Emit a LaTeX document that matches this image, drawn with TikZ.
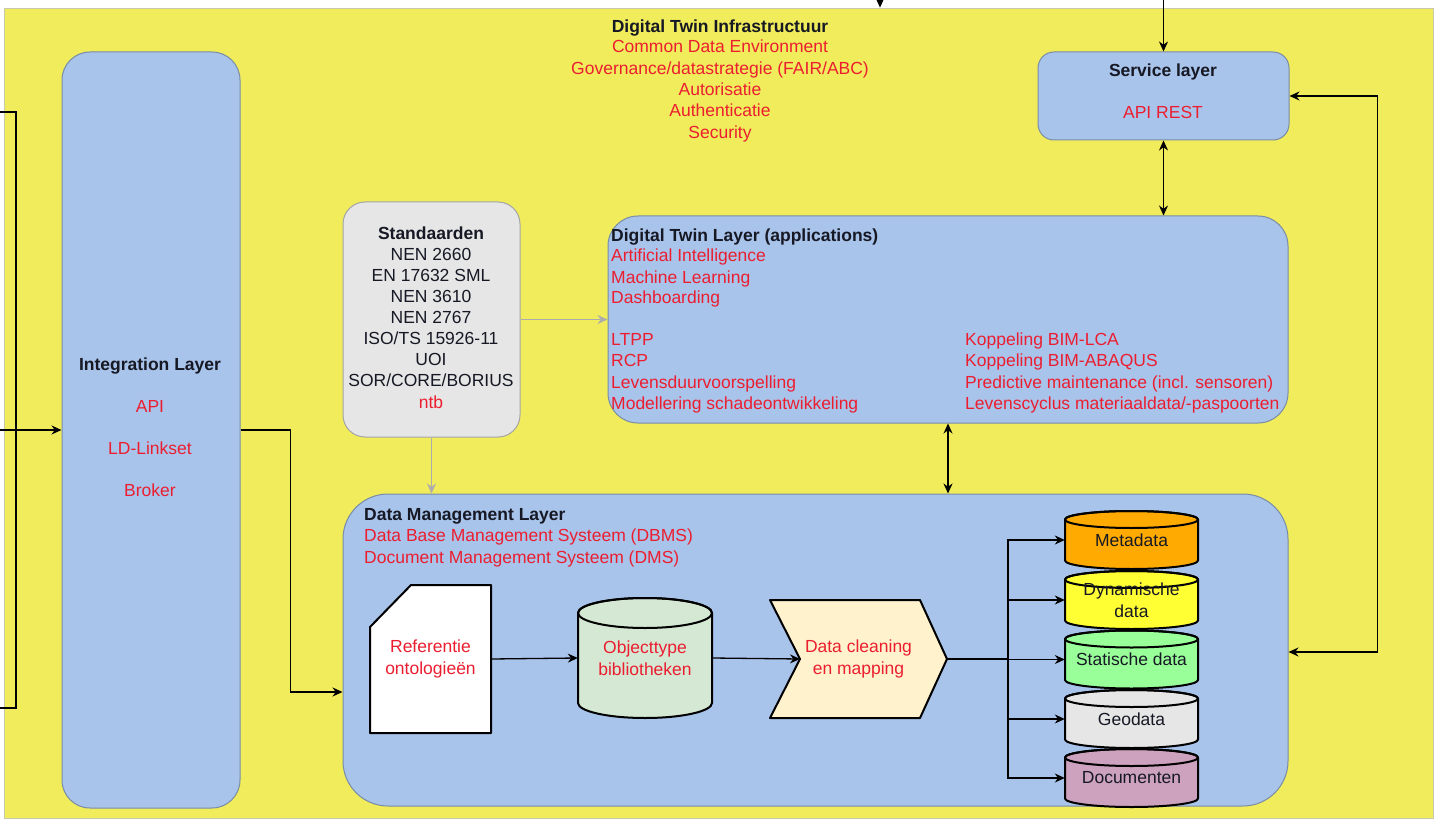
\documentclass[tikz,border=0pt]{standalone}
\usepackage{fontspec}
\setmainfont{Liberation Sans}
\usetikzlibrary{arrows.meta,calc}

\definecolor{yel}{RGB}{240,236,92}
\definecolor{yelbd}{RGB}{200,200,170}
\definecolor{laybl}{RGB}{169,196,235}
\definecolor{laybd}{RGB}{120,140,165}
\definecolor{rtx}{RGB}{235,30,48}
\definecolor{dtx}{RGB}{22,24,36}
\definecolor{stdfill}{RGB}{230,230,230}
\definecolor{stdbd}{RGB}{165,165,165}
\definecolor{garr}{RGB}{172,172,172}
\definecolor{cmeta}{RGB}{255,170,0}
\definecolor{cdyn}{RGB}{255,255,51}
\definecolor{cstat}{RGB}{153,255,153}
\definecolor{cgeo}{RGB}{230,230,230}
\definecolor{cdoc}{RGB}{205,162,190}
\definecolor{cobj}{RGB}{213,232,212}
\definecolor{cclean}{RGB}{255,242,204}

\newcommand\fs{\fontsize{17.5}{22}\selectfont}

% cylinder: name, cx, cy, width, height, cap radius, fill, text, text colour
\newcommand\dbcyl[9]{%
  \pgfmathsetmacro\cyL{#2-#4/2}%
  \pgfmathsetmacro\cyR{#2+#4/2}%
  \pgfmathsetmacro\cyT{#3-#5/2+#6}%
  \pgfmathsetmacro\cyB{#3+#5/2-#6}%
  \pgfmathsetmacro\cyH{#4/2}%
  \filldraw[shapeline, fill=#7] (\cyL,\cyT) -- (\cyL,\cyB)
    arc[start angle=180, end angle=360, x radius=\cyH pt, y radius=#6pt]
    -- (\cyR,\cyT)
    arc[start angle=0, end angle=180, x radius=\cyH pt, y radius=#6pt] -- cycle;
  \draw[shapeline] (#2,\cyT) ellipse[x radius=\cyH pt, y radius=#6pt];
  \node[boxtext, text=#9, minimum width=#4pt, minimum height=#5pt] (#1) at (#2,#3) {#8};
}

\begin{document}
\begin{tikzpicture}[x=1pt, y=-1pt,
  layer/.style={draw=laybd, fill=laybl, line width=1pt, inner sep=0pt},
  lbl/.style={inner sep=0pt, text height=12.6pt, text depth=3.7pt, font=\fs},
  rl/.style={lbl, text=rtx},
  bl/.style={lbl, text=dtx, font=\fs\bfseries},
  kl/.style={lbl, text=dtx},
  boxtext/.style={inner sep=0pt, align=center, font=\fs},
  shapeline/.style={draw=black, line width=2pt, line join=round},
  conn/.style={draw=black, line width=1.3pt, -{Stealth[length=10pt,width=9pt]}},
  biconn/.style={draw=black, line width=1.3pt, {Stealth[length=10pt,width=9pt]}-{Stealth[length=10pt,width=9pt]}},
  greyconn/.style={draw=garr, line width=1.8pt, -{Stealth[length=10pt,width=9pt]}},
  busline/.style={draw=black, line width=1.3pt}
]
\useasboundingbox (0,0) rectangle (1435,821);

% infrastructure frame
\node[draw=yelbd, fill=yel, line width=0.8pt, minimum width=1429pt, minimum height=810pt, inner sep=0pt] (dti) at (719,413) {};

% layers
\node[layer, rounded corners=28pt, minimum width=178pt, minimum height=756pt] (integ) at (151,430) {};
\node[layer, rounded corners=16pt, minimum width=251pt, minimum height=88pt] (svc) at (1163.5,96) {};
\node[layer, rounded corners=30pt, minimum width=680pt, minimum height=207pt] (dt) at (948,319.5) {};
\node[layer, rounded corners=45pt, minimum width=945pt, minimum height=312pt] (dm) at (815.5,650) {};
\node[draw=stdbd, fill=stdfill, line width=1pt, rounded corners=22pt, minimum width=177pt, minimum height=235pt, inner sep=0pt] (std) at (431.5,319.5) {};

% infrastructure texts
\node[bl] (t0) at (720,28) {Digital Twin Infrastructuur};
\node[rl] (t1) at (720,48) {Common Data Environment};
\node[rl] (t2) at (720,70) {Governance/datastrategie (FAIR/ABC)};
\node[rl] (t3) at (720,91) {Autorisatie};
\node[rl] (t4) at (720,112) {Authenticatie};
\node[rl] (t5) at (720,134) {Security};

% integration layer texts
\node[bl] (i0) at (150,366) {Integration Layer};
\node[rl] (i1) at (150,408) {API};
\node[rl] (i2) at (150,450) {LD-Linkset};
\node[rl] (i3) at (150,492) {Broker};

% service layer texts
\node[bl] (s0) at (1163,72) {Service layer};
\node[rl] (s1) at (1163,114) {API REST};

% standards
\node[bl] (n0) at (431,235) {Standaarden};
\node[kl] (n1) at (431,256) {NEN 2660};
\node[kl] (n2) at (431,277) {EN 17632 SML};
\node[kl] (n3) at (431,298) {NEN 3610};
\node[kl] (n4) at (431,319) {NEN 2767};
\node[kl] (n5) at (431,340) {ISO/TS 15926-11};
\node[kl] (n6) at (431,361) {UOI};
\node[kl] (n7) at (431,382) {SOR/CORE/BORIUS};
\node[rl] (n8) at (431,404) {ntb};

% digital twin layer texts
\node[bl, anchor=west] (d0) at (611,237) {Digital Twin Layer (applications)};
\node[rl, anchor=west] (d1) at (611,257) {Artificial Intelligence};
\node[rl, anchor=west] (d2) at (611,279) {Machine Learning};
\node[rl, anchor=west] (d3) at (611,299) {Dashboarding};
\node[rl, anchor=west] (d4) at (611,341) {LTPP};
\node[rl, anchor=west] (d5) at (611,362) {RCP};
\node[rl, anchor=west] (d6) at (611,384) {Levensduurvoorspelling};
\node[rl, anchor=west] (d7) at (611,405) {Modellering schadeontwikkeling};
\node[rl, anchor=west] (e1) at (965,341) {Koppeling BIM-LCA};
\node[rl, anchor=west] (e2) at (965,362) {Koppeling BIM-ABAQUS};
\node[rl, anchor=west] (e3) at (965,384) {Predictive maintenance (incl. sensoren)};
\node[rl, anchor=west] (e4) at (965,405) {Levenscyclus materiaaldata/-paspoorten};

% data management layer texts
\node[bl, anchor=west] (m0) at (364,516) {Data Management Layer};
\node[rl, anchor=west] (m1) at (364,537) {Data Base Management Systeem (DBMS)};
\node[rl, anchor=west] (m2) at (364,559) {Document Management Systeem (DMS)};

% reference ontologies (card shape)
\filldraw[shapeline, fill=white] (411,585) -- (491,585) -- (491,733) -- (370,733) -- (370,627) -- cycle;
\node[boxtext, text=rtx, minimum width=121pt, minimum height=148pt] (ref) at (430.5,659) {Referentie\\[0pt]ontologieën};

% object type library
\dbcyl{obj}{645}{658}{134}{120}{15}{cobj}{Objecttype\\[0pt]bibliotheken}{rtx}

% data cleaning step
\filldraw[shapeline, fill=cclean] (770,600) -- (920,600) -- (947,659) -- (920,718) -- (770,718) -- (800,659) -- cycle;
\node[boxtext, text=rtx, minimum width=177pt, minimum height=118pt] (clean) at (858.5,659) {Data cleaning\\[0pt]en mapping};
\coordinate (notch) at (800,659);
\coordinate (tip) at (947,659);

% data stores
\dbcyl{meta}{1131.5}{540}{133}{58}{8.5}{cmeta}{Metadata}{dtx}
\dbcyl{dyn}{1131.5}{600}{133}{58}{8.5}{cdyn}{Dynamische\\[0pt]data}{dtx}
\dbcyl{stat}{1131.5}{659.5}{133}{58}{8.5}{cstat}{Statische data}{dtx}
\dbcyl{geo}{1131.5}{719}{133}{58}{8.5}{cgeo}{Geodata}{dtx}
\dbcyl{doc}{1131.5}{778}{133}{58}{8.5}{cdoc}{Documenten}{dtx}

% connectors inside data management
\draw[conn] (ref.east) -- (obj.west);
\draw[conn] (obj.east) -- (notch);
\coordinate (bus) at (1008,659);
\draw[draw=black, line width=2pt] (tip) -- (bus);
\foreach \n in {meta,dyn,stat,geo,doc}
  \draw[conn] (bus) |- (\n.west);

% standards feed
\draw[greyconn] (std.east) -- (std.east -| dt.west);
\draw[greyconn] (std.south) -- (std.south |- dm.north);

% layer connectors
\coordinate (topin) at (880,0);
\draw[conn] (topin) -- (topin |- dti.north);
\coordinate (svcin) at (1163.5,0);
\draw[conn] (svcin) -- (svc.north);
\draw[biconn] (svc.south) -- (svc.south |- dt.north);
\draw[biconn] (dt.south) -- (dt.south |- dm.north);
\draw[biconn] (svc.east) -- ++(88,0) |- ([yshift=-2pt]dm.east);
\draw[conn] (integ.east) -- ++(50,0) |- ([yshift=-42pt]dm.west);

% external links on the left
\coordinate (ext1) at (0,112);
\coordinate (ext2) at (0,708);
\coordinate (ext3) at (0,430);
\draw[busline] (ext1) -- (16,112) -- (16,708) -- (ext2);
\draw[conn] (ext3) -- (integ.west);
\end{tikzpicture}
\end{document}
